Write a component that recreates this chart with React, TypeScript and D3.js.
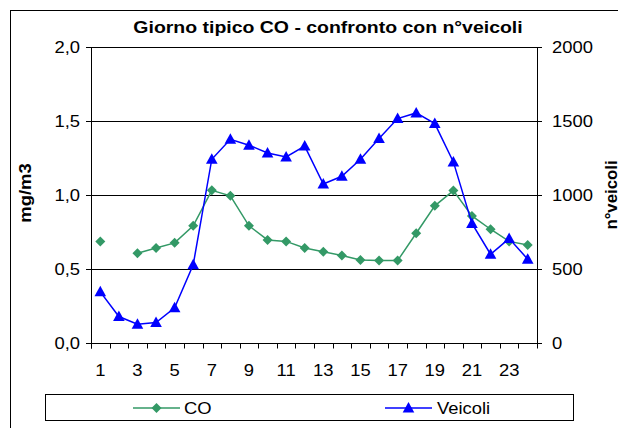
import React from "react";
import * as d3 from "d3";

const hours: number[] = Array.from({ length: 24 }, (_, i) => i + 1);
const coValues: (number | null)[] = [
  0.69, null, 0.61, 0.645, 0.68, 0.795, 1.035, 0.998, 0.795, 0.7, 0.69, 0.645,
  0.62, 0.595, 0.565, 0.56, 0.56, 0.745, 0.93, 1.033, 0.862, 0.772, 0.69, 0.665,
];
const veicoliValues: number[] = [
  349, 182, 130, 142, 241, 532, 1245, 1380, 1340, 1287, 1260, 1334,
  1078, 1130, 1245, 1385, 1520, 1558, 1486, 1227, 811, 603, 709, 570,
];
const leftTicks: number[] = [0, 0.5, 1, 1.5, 2];
const rightTicks: number[] = [0, 500, 1000, 1500, 2000];
const xLabelHours: number[] = [1, 3, 5, 7, 9, 11, 13, 15, 17, 19, 21, 23];

const FONT = "'Liberation Sans', Arial, sans-serif";
const SX = 1.15;
const GREEN = "#339966";
const BLUE = "#0000FF";

const X0 = 91;
const X1 = 537;
const Y0 = 343.5;
const Y1 = 47.5;

function Diamond({ x, y, r = 5 }: { x: number; y: number; r?: number }) {
  return (
    <path
      d={`M${x},${y - r}L${x + r},${y}L${x},${y + r}L${x - r},${y}Z`}
      fill={GREEN}
    />
  );
}

function Triangle({ x, y }: { x: number; y: number }) {
  const w = 5.8;
  return (
    <path
      d={`M${x},${y - 6}L${x + w},${y + 4.5}L${x - w},${y + 4.5}Z`}
      fill={BLUE}
    />
  );
}

function T({
  x,
  y,
  children,
  anchor = "start",
  size = 16,
  bold = false,
  rotate = 0,
  sx = SX,
}: any) {
  return (
    <text
      transform={`translate(${x},${y}) rotate(${rotate}) scale(${sx},1)`}
      textAnchor={anchor}
      fontFamily={FONT}
      fontSize={size}
      fontWeight={bold ? "bold" : "normal"}
      fill="#000"
    >
      {children}
    </text>
  );
}

export default function App() {
  const xBand = d3.scaleBand<number>().domain(hours).range([X0, X1]);
  const xc = (h: number) => (xBand(h) as number) + xBand.bandwidth() / 2;
  const yL = d3.scaleLinear().domain([0, 2]).range([Y0, Y1]);
  const yR = d3.scaleLinear().domain([0, 2000]).range([Y0, Y1]);

  const coLine = d3
    .line<number | null>()
    .defined((d) => d !== null)
    .x((_, i) => xc(hours[i]))
    .y((d) => yL(d as number));
  const vLine = d3
    .line<number>()
    .x((_, i) => xc(hours[i]))
    .y((d) => yR(d));

  const boundaries = d3.range(0, 25).map((i) => X0 + i * xBand.step());

  return (
    <svg
      width={618}
      height={428}
      style={{ position: "absolute", left: 0, top: 0, background: "#fff" }}
    >
      <rect x={0} y={0} width={618} height={428} fill="#fff" />
      <rect x={10.5} y={10.5} width={700} height={500} fill="none" stroke="#000" strokeWidth={1} />

      <T x={328} y={33} anchor="middle" bold size={16.5} sx={1.18}>
        Giorno tipico CO - confronto con n°veicoli
      </T>

      {/* gridlines */}
      {leftTicks.filter((t) => t > 0).map((t) => (
        <line key={t} x1={X0} x2={X1} y1={yL(t)} y2={yL(t)} stroke="#000" strokeWidth={1} />
      ))}

      {/* axes */}
      <line x1={X0 + 0.5} x2={X0 + 0.5} y1={Y1} y2={Y0 + 5} stroke="#000" />
      <line x1={X1 + 0.5} x2={X1 + 0.5} y1={Y1} y2={Y0} stroke="#000" />
      <line x1={X0} x2={X1 + 1} y1={Y0} y2={Y0} stroke="#000" />

      {leftTicks.map((t) => (
        <g key={"l" + t}>
          <line x1={X0 - 5} x2={X0} y1={yL(t)} y2={yL(t)} stroke="#000" />
          <T x={80} y={yL(t) + 5.5} anchor="end">
            {d3.format(".1f")(t).replace(".", ",")}
          </T>
        </g>
      ))}
      {rightTicks.map((t) => (
        <g key={"r" + t}>
          <line x1={X1} x2={X1 + 5} y1={yR(t)} y2={yR(t)} stroke="#000" />
          <T x={552} y={yR(t) + 5.5} anchor="start">
            {String(t)}
          </T>
        </g>
      ))}
      {boundaries.map((b, i) => (
        <line
          key={"xt" + i}
          x1={Math.round(b) + 0.5}
          x2={Math.round(b) + 0.5}
          y1={Y0}
          y2={Y0 + 5}
          stroke="#000"
        />
      ))}
      {xLabelHours.map((h) => (
        <T key={"xl" + h} x={xc(h)} y={375.5} anchor="middle">
          {String(h)}
        </T>
      ))}

      <T x={31} y={193} anchor="middle" bold rotate={-90}>
        mg/m3
      </T>
      <T x={616.5} y={195} anchor="middle" bold rotate={-90} sx={1.05}>
        n°veicoli
      </T>

      {/* series */}
      <path d={coLine(coValues) || ""} fill="none" stroke={GREEN} strokeWidth={1.5} />
      {coValues.map((v, i) =>
        v === null ? null : <Diamond key={"d" + i} x={xc(hours[i])} y={yL(v)} />
      )}
      <path d={vLine(veicoliValues) || ""} fill="none" stroke={BLUE} strokeWidth={1.5} />
      {veicoliValues.map((v, i) => (
        <Triangle key={"t" + i} x={xc(hours[i])} y={yR(v)} />
      ))}

      {/* legend */}
      <rect x={45.5} y={394.5} width={528} height={26} fill="#fff" stroke="#000" />
      <line x1={133} x2={180} y1={408} y2={408} stroke={GREEN} strokeWidth={1.5} />
      <Diamond x={156.5} y={408} />
      <T x={184} y={414}>CO</T>
      <line x1={385} x2={432} y1={408} y2={408} stroke={BLUE} strokeWidth={1.5} />
      <Triangle x={408.5} y={408} />
      <T x={437} y={414}>Veicoli</T>
    </svg>
  );
}
